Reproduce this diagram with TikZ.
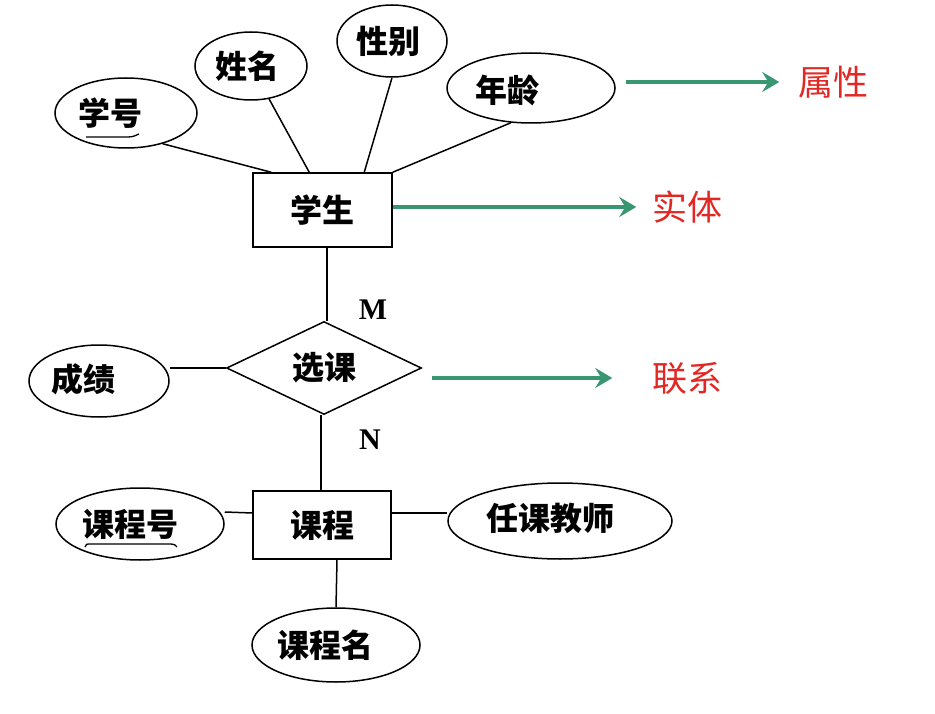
\documentclass[tikz,border=0pt]{standalone}
\usepackage{fontspec}
\setmainfont{Liberation Serif}
\newfontfamily\cjk{Noto Sans CJK SC}
\usetikzlibrary{shapes.geometric,arrows.meta,calc}
\definecolor{arrgreen}{RGB}{56,150,112}
\definecolor{lblred}{RGB}{226,40,36}
\begin{document}
\begin{tikzpicture}[x=1pt,y=-1pt,
  line width=1.5pt,
  attr/.style={ellipse, draw, inner sep=0pt},
  ent/.style={rectangle, draw, inner sep=0pt},
  rel/.style={diamond, draw, inner sep=0pt, aspect=2.1, minimum width=195pt, minimum height=93pt},
  txt/.style={font=\cjk\bfseries\fontsize{32}{36}\selectfont, inner sep=0pt},
  lbl/.style={font=\cjk\fontsize{35}{40}\selectfont, text=lblred, inner sep=0pt},
  card/.style={font=\bfseries\fontsize{30}{34}\selectfont, inner sep=0pt},
  garrow/.style={draw=arrgreen, line width=4pt, -{Stealth[length=17pt,width=20pt,inset=6pt]}},
  uline/.style={line width=1.3pt}
]
\path[fill=white] (0,0) rectangle (935,714);
\useasboundingbox (0,0) rectangle (935,714);

% entities
\node[ent, minimum width=139pt, minimum height=74pt, txt] (xs) at (322.5,210) {学生};
\node[ent, minimum width=138pt, minimum height=68pt, txt] (kc) at (322,525) {课程};
% relationship
\node[rel, txt] (xk) at (324,368) {选课};

% attributes
\node[attr, minimum width=142pt, minimum height=70pt, label={[txt,xshift=-16pt]center:学号}] (xh) at (126,113) {};
\node[attr, minimum width=112pt, minimum height=68pt, label={[txt,xshift=-4pt]center:姓名}] (xm) at (251,66) {};
\node[attr, minimum width=110pt, minimum height=72pt, label={[txt,xshift=-4pt]center:性别}] (xb) at (392,41) {};
\node[attr, minimum width=168pt, minimum height=70pt, label={[txt,xshift=-24pt,yshift=-2pt]center:年龄}] (nl) at (531,88) {};
\node[attr, minimum width=140pt, minimum height=72pt, label={[txt,xshift=-16pt,yshift=2pt]center:成绩}] (cj) at (99,381) {};
\node[attr, minimum width=168pt, minimum height=72pt, label={[txt,xshift=-10pt]center:课程号}] (kch) at (140,524) {};
\node[attr, minimum width=224pt, minimum height=76pt, label={[txt,xshift=-10pt,yshift=3pt]center:任课教师}] (rk) at (560,521) {};
\node[attr, minimum width=168pt, minimum height=74pt, label={[txt,xshift=-11pt]center:课程名}] (kcm) at (336,645) {};

% key underlines
\draw[uline] ($(xh.center)+(-40,24)$) -- ($(xh.center)+(2,24)$) .. controls ($(xh.center)+(8,24)$) and ($(xh.center)+(10,22)$) .. ($(xh.center)+(13,21)$);
\draw[uline] ($(kch.center)+(-55,23)$) .. controls ($(kch.center)+(-55,20)$) and ($(kch.center)+(-53,20)$) .. ($(kch.center)+(-49,20)$) -- ($(kch.center)+(30,20)$) .. controls ($(kch.center)+(34,20)$) and ($(kch.center)+(36,21)$) .. ($(kch.center)+(37,23)$);

% cardinalities
\node[card] (m) at (373,310) {M};
\node[card] (n) at (370,440) {N};

% labels
\node[lbl] (sx) at (833,82) {属性};
\node[lbl] (st) at (687,207) {实体};
\node[lbl] (lx) at (687,378) {联系};

% attribute connectors
\draw (xh.-40) -- ([xshift=19pt]xs.north west);
\draw (xm) -- ([xshift=57pt]xs.north west);
\draw (xb.south) -- ([xshift=112pt]xs.north west);
\draw (nl.-120) -- (xs.north east);
\draw (xk.west) -- (xk.west -| cj.east);
\draw ([yshift=12pt]kc.west) -- ([yshift=12pt]kch.east);
\draw ([yshift=12pt]kc.east) -- ([yshift=8pt]rk.west);
\draw ([xshift=15pt]kc.south) -- (kcm.north);

% relationship connectors
\draw ([xshift=3pt]xk.north) -- ([xshift=3pt]xk.north |- xs.south);
\draw ([xshift=-3pt]xk.south) -- ([xshift=-3pt]xk.south |- kc.north);

% green arrows
\draw[garrow, shorten <=10pt, shorten >=18pt] (nl.east |- sx.west) -- (sx.west);
\draw[garrow, shorten >=15pt] (xs.east |- st.west) -- (st.west);
\draw[garrow, shorten <=10pt, shorten >=39pt] (xk.east |- lx.west) -- (lx.west);
\end{tikzpicture}
\end{document}
